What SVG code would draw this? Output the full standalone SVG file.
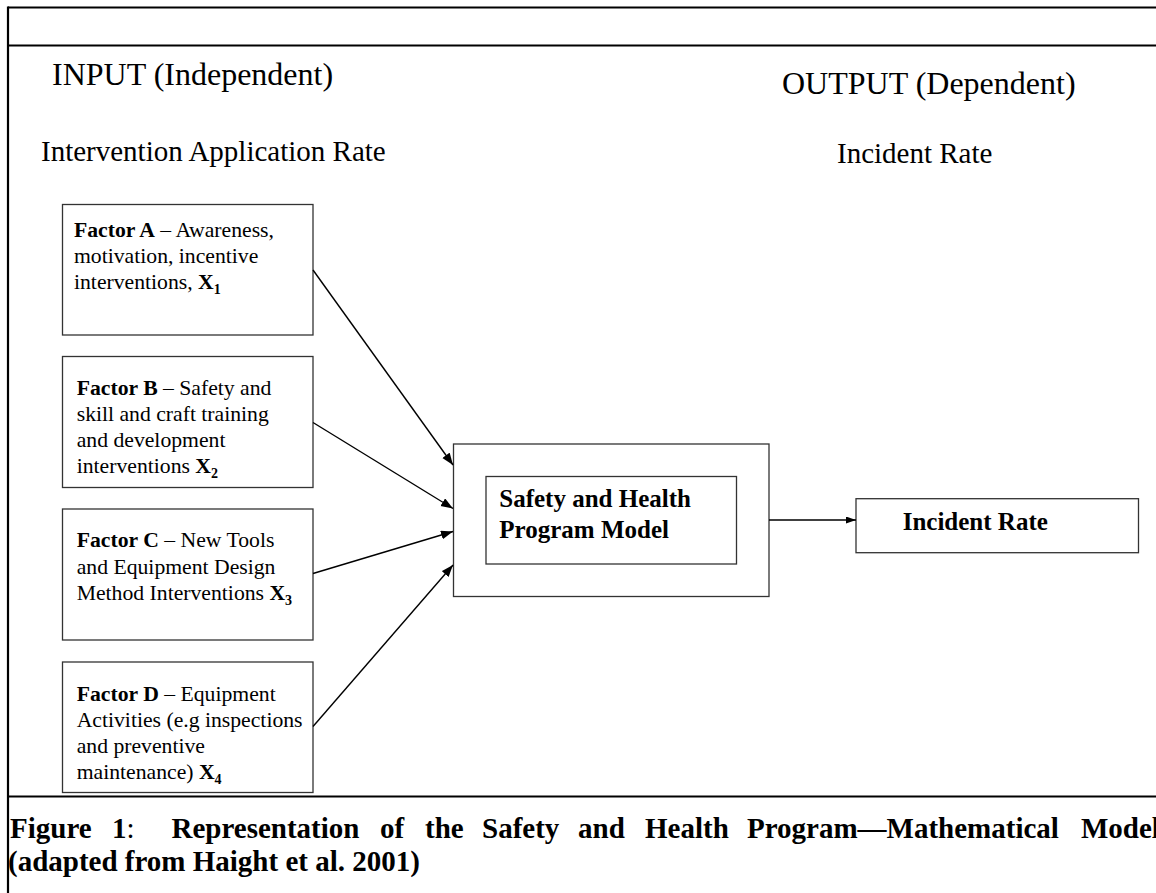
<svg xmlns="http://www.w3.org/2000/svg" width="1156" height="893" viewBox="0 0 1156 893">
<defs>
<style>
text{font-family:"Liberation Serif","Times New Roman",serif;fill:#000}
.hdr{font-size:32px}
.sub{font-size:29px}
.fx{font-size:21.7px}
.b{font-weight:bold}
.sb{font-size:14px;font-weight:bold}
.cap{font-size:29px;font-weight:bold}
.mid{font-size:25px;font-weight:bold}
.box{fill:#fff;stroke:#333;stroke-width:1.3}
.frame{stroke:#000;stroke-width:2.2;fill:none}
.conn{stroke:#000;stroke-width:1.4;fill:none}
</style>
<marker id="ah" markerUnits="userSpaceOnUse" markerWidth="13" markerHeight="10" refX="12" refY="4.5" orient="auto">
<path d="M0,0 L12,4.5 L0,9 z" fill="#000"/>
</marker>
<marker id="ah2" markerUnits="userSpaceOnUse" markerWidth="11" markerHeight="8" refX="10" refY="3.5" orient="auto">
<path d="M0,0 L10,3.5 L0,7 z" fill="#000"/>
</marker>
</defs>
<rect width="1156" height="893" fill="#fff"/>
<g id="frame">
<line class="frame" x1="8" y1="7.5" x2="1156" y2="7.5"/>
<line class="frame" x1="8" y1="45.5" x2="1156" y2="45.5"/>
<line class="frame" x1="8" y1="796.5" x2="1156" y2="796.5"/>
<line class="frame" x1="8" y1="6.5" x2="8" y2="893"/>
</g>
<g id="headers">
<text class="hdr" x="52" y="85">INPUT (Independent)</text>
<text class="hdr" x="782" y="94">OUTPUT (Dependent)</text>
<text class="sub" x="41" y="161">Intervention Application Rate</text>
<text class="sub" x="837" y="163">Incident Rate</text>
</g>
<g id="factorA">
<rect class="box" x="62.5" y="204.5" width="250.5" height="130.5"/>
<text class="fx" x="74" y="237"><tspan class="b">Factor A</tspan> – Awareness,</text>
<text class="fx" x="74" y="263">motivation, incentive</text>
<text class="fx" x="74" y="289">interventions, <tspan class="b">X</tspan><tspan class="sb" dy="5">1</tspan></text>
</g>
<g id="factorB">
<rect class="box" x="62.5" y="356.5" width="250.5" height="131"/>
<text class="fx" x="76.7" y="395"><tspan class="b">Factor B</tspan> – Safety and</text>
<text class="fx" x="76.7" y="421">skill and craft training</text>
<text class="fx" x="76.7" y="447">and development</text>
<text class="fx" x="76.7" y="473">interventions <tspan class="b">X</tspan><tspan class="sb" dy="5">2</tspan></text>
</g>
<g id="factorC">
<rect class="box" x="62.5" y="509" width="250.5" height="131"/>
<text class="fx" x="76.7" y="547"><tspan class="b">Factor C</tspan> – New Tools</text>
<text class="fx" x="76.7" y="573.5">and Equipment Design</text>
<text class="fx" x="76.7" y="600">Method Interventions <tspan class="b">X</tspan><tspan class="sb" dy="5">3</tspan></text>
</g>
<g id="factorD">
<rect class="box" x="62.5" y="662" width="250.5" height="130.5"/>
<text class="fx" x="76.7" y="700.5"><tspan class="b">Factor D</tspan> – Equipment</text>
<text class="fx" x="76.7" y="726.5">Activities (e.g inspections</text>
<text class="fx" x="76.7" y="752.5">and preventive</text>
<text class="fx" x="76.7" y="778.5">maintenance) <tspan class="b">X</tspan><tspan class="sb" dy="5">4</tspan></text>
</g>
<g id="model">
<rect class="box" x="453.5" y="444" width="315.5" height="152.5"/>
<rect class="box" x="486" y="476.5" width="250.5" height="87.5"/>
<text class="mid" x="499.3" y="507.3">Safety and Health</text>
<text class="mid" x="499.3" y="538.3">Program Model</text>
</g>
<g id="incident">
<rect class="box" x="856" y="498.7" width="282.5" height="54"/>
<text class="mid" x="902.7" y="530">Incident Rate</text>
</g>
<g id="connectors">
<line class="conn" x1="313" y1="270" x2="453" y2="465" marker-end="url(#ah)"/>
<line class="conn" x1="313" y1="422.5" x2="453" y2="508.5" marker-end="url(#ah)"/>
<line class="conn" x1="313" y1="573.5" x2="453" y2="531.5" marker-end="url(#ah)"/>
<line class="conn" x1="313" y1="726.5" x2="453" y2="565" marker-end="url(#ah)"/>
<line class="conn" x1="769" y1="520" x2="856" y2="520" marker-end="url(#ah2)"/>
</g>
<g id="caption">
<text class="cap" y="838"><tspan x="10">Figure</tspan><tspan x="112">1</tspan><tspan style="font-weight:normal">:</tspan><tspan x="171.5">Representation</tspan><tspan x="380">of</tspan><tspan x="425">the</tspan><tspan x="482">Safety</tspan><tspan x="578">and</tspan><tspan x="645">Health</tspan><tspan x="747">Program—Mathematical</tspan><tspan x="1081">Model</tspan></text>
<text class="cap" x="8" y="871">(adapted from Haight et al. 2001)</text>
</g>
</svg>
